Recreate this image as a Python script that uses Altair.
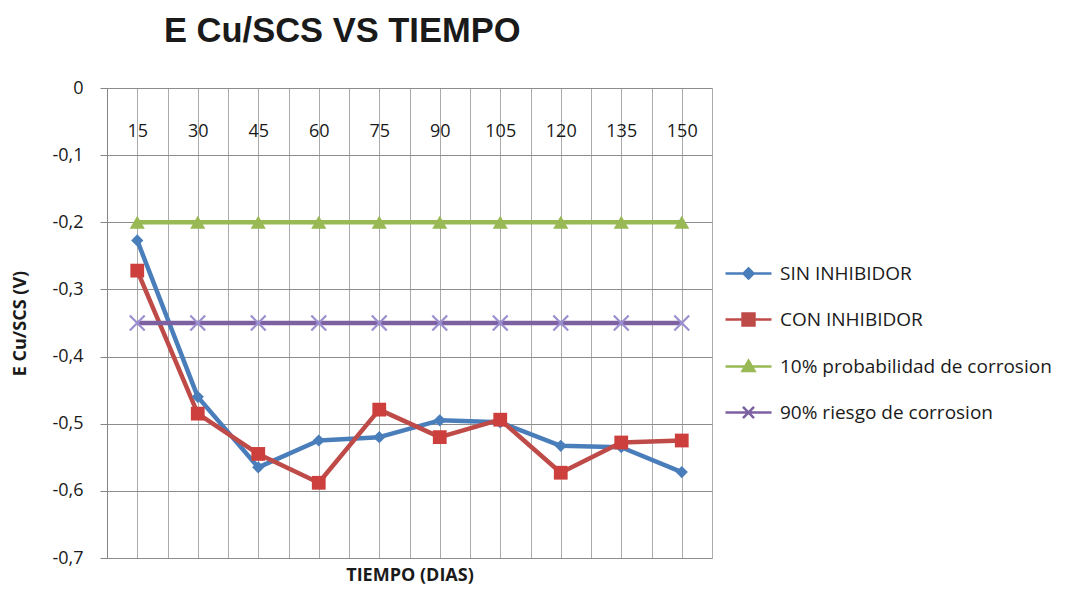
import altair as alt
import pandas as pd

# ---------------- data ----------------
dias = [15, 30, 45, 60, 75, 90, 105, 120, 135, 150]
sin_inhibidor = [-0.227, -0.460, -0.565, -0.525, -0.520, -0.495, -0.498, -0.533, -0.535, -0.572]
con_inhibidor = [-0.272, -0.485, -0.545, -0.588, -0.479, -0.520, -0.494, -0.573, -0.528, -0.525]
prob_10 = [-0.2, -0.2, -0.2, -0.2, -0.2, -0.2, -0.2, -0.2, -0.2, -0.2]
riesgo_90 = [-0.35, -0.35, -0.35, -0.35, -0.35, -0.35, -0.35, -0.35, -0.35, -0.35]

series = ["SIN INHIBIDOR", "CON INHIBIDOR", "10% probabilidad de corrosion", "90% riesgo de corrosion"]
y_ticks = [0, -0.1, -0.2, -0.3, -0.4, -0.5, -0.6, -0.7]

# ---------------- styles ----------------
line_colors = ["#4A7EBB", "#BE4B48", "#98B954", "#7D60A0"]
marker_colors = ["#4A7EBB", "#CC3F3C", "#98B954", "#9C8FD0"]
font = "Open Sans"
title_font = "Liberation Sans"

x_path = ("M0,-0.19L0.81,-1L1,-0.81L0.19,0L1,0.81L0.81,1L0,0.19L-0.81,1"
          "L-1,0.81L-0.19,0L-1,-0.81L-0.81,-1Z")
marker_shapes = ["diamond", "square", "triangle-up", x_path]
marker_sizes = [150, 270, 190, 230]

legend_shapes = [
    "M-1,0H1M0,-0.22L0.22,0L0,0.22L-0.22,0Z",
    "M-1,0H1M-0.26,-0.26H0.26V0.26H-0.26Z",
    "M-1,0H1M0,-0.25L0.26,0.2H-0.26Z",
    "M-1,0H1M-0.24,-0.24L0.24,0.24M-0.24,0.24L0.24,-0.24",
]

rows = []
for name, vals in zip(series, [sin_inhibidor, con_inhibidor, prob_10, riesgo_90]):
    for d, v in zip(dias, vals):
        rows.append({"dia": d, "valor": v, "serie": name})
df = pd.DataFrame(rows)

x_grid = [d - 7.5 for d in dias] + [dias[-1] + 7.5] + dias
label_expr_y = "(datum.value < 0 ? '-' : '') + replace(format(abs(datum.value), '.1~f'), '.', ',')"

x_enc = alt.X(
    "dia:Q",
    scale=alt.Scale(domain=[dias[0] - 7.5, dias[-1] + 7.5], nice=False, zero=False),
    axis=alt.Axis(
        orient="top",
        values=x_grid,
        labelExpr="datum.value % 15 == 0 ? '' + datum.value : ''",
        labelOverlap=False,
        labelFlush=False,
        labelPadding=-52,
        labelFont=font,
        labelFontSize=18,
        labelColor="#1A1A1A",
        ticks=False,
        domain=False,
        grid=True,
        gridColor="#ABABAB",
        gridWidth=1,
        title="TIEMPO (DIAS)",
        titleFont=font,
        titleFontSize=18,
        titleFontWeight="bold",
        titleColor="#1A1A1A",
        titleY=487,
        titleBaseline="middle",
    ),
)
y_enc = alt.Y(
    "valor:Q",
    scale=alt.Scale(domain=[-0.7, 0], nice=False, zero=False),
    axis=alt.Axis(
        values=y_ticks,
        labelExpr=label_expr_y,
        labelFont=font,
        labelFontSize=18,
        labelColor="#1A1A1A",
        labelPadding=17,
        tickSize=7,
        tickColor="#868686",
        domainColor="#868686",
        grid=True,
        gridColor="#8C8C8C",
        title="E Cu/SCS (V)",
        titleFont=font,
        titleFontSize=18,
        titleFontWeight="bold",
        titleColor="#1A1A1A",
        titleAngle=-90,
        titleX=-87,
        titleY=235,
        titleAlign="center",
        titleBaseline="middle",
    ),
)

base = alt.Chart(df)

lines = base.mark_line(strokeWidth=4.5, strokeJoin="round", strokeCap="butt").encode(
    x=x_enc,
    y=y_enc,
    color=alt.Color("serie:N", scale=alt.Scale(domain=series, range=line_colors), legend=None),
    detail="serie:N",
)

points = base.mark_point(filled=True, opacity=1).encode(
    x=x_enc,
    y=y_enc,
    color=alt.Color("serie:N", scale=alt.Scale(domain=series, range=marker_colors), legend=None),
    shape=alt.Shape("serie:N", scale=alt.Scale(domain=series, range=marker_shapes), legend=None),
    size=alt.Size("serie:N", scale=alt.Scale(domain=series, range=marker_sizes), legend=None),
)

leg = alt.Legend(
    title=None,
    orient="none",
    legendX=617,
    legendY=161,
    symbolSize=2116,
    symbolStrokeWidth=2.5,
    labelFont=font,
    labelFontSize=19,
    labelColor="#1A1A1A",
    labelOffset=7,
    rowPadding=11,
    labelLimit=400,
)

legend_layer = base.transform_filter("false").mark_point(
    filled=True, opacity=1, size=2116, strokeWidth=2.5
).encode(
    x=x_enc,
    y=y_enc,
    shape=alt.Shape("serie:N", scale=alt.Scale(domain=series, range=legend_shapes), legend=leg),
    fill=alt.Fill("serie:N", scale=alt.Scale(domain=series, range=line_colors), legend=leg),
    stroke=alt.Stroke("serie:N", scale=alt.Scale(domain=series, range=line_colors), legend=leg),
)

chart = (
    alt.layer(lines, points, legend_layer)
    .resolve_scale(shape="independent", fill="independent", stroke="independent", color="independent", size="independent")
    .properties(
        width=605,
        height=470,
        autosize=alt.AutoSizeParams(type="none"),
        padding={"left": 99, "top": 80, "right": 349, "bottom": 28},
        title=alt.TitleParams(
            text="E Cu/SCS VS TIEMPO",
            font=title_font,
            fontSize=34.5,
            fontWeight="bold",
            color="#1A1A1A",
            anchor="start",
            frame="group",
            dx=57,
            dy=-26,
        ),
    )
    .configure_view(stroke=None)
    .configure(background="#FFFFFF")
)

chart.save("out.html", embed_options={"renderer": "svg", "actions": False})
